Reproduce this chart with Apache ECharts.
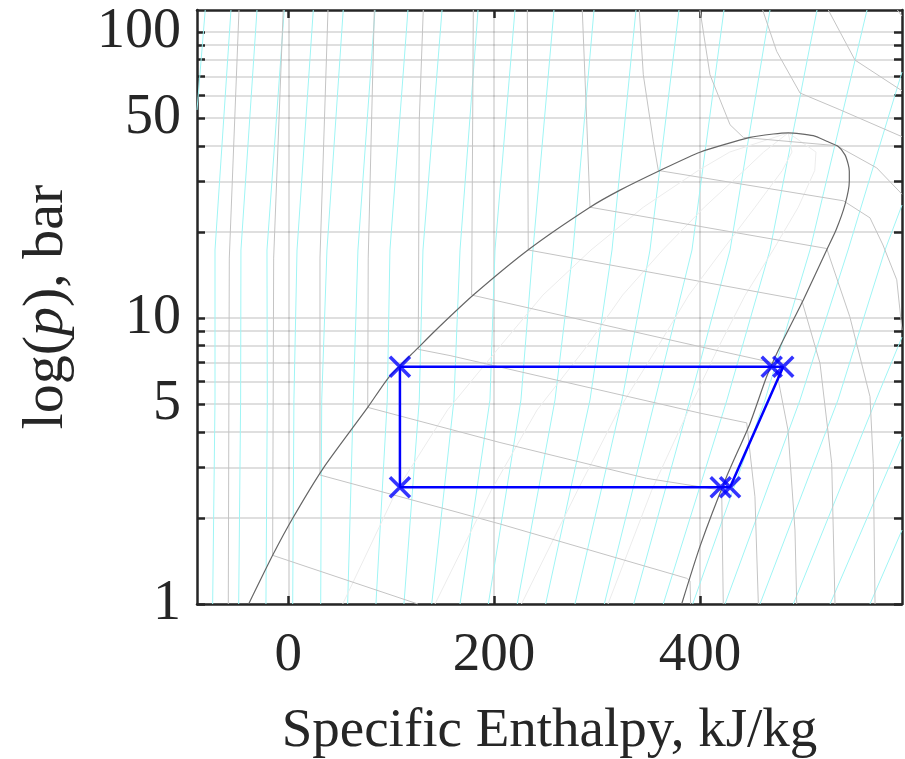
<!DOCTYPE html>
<html>
<head>
<meta charset="utf-8">
<script src="https://cdn.jsdelivr.net/npm/echarts@6/dist/echarts.min.js"></script>
<style>
  html, body { margin: 0; padding: 0; background: #ffffff; }
  #chart { width: 905px; height: 759px; }
</style>
</head>
<body>
<div id="chart"></div>
<script>
// Pressure-enthalpy diagram: h in kJ/kg, p in bar.

// Axis ranges and tick values
const hRange = [-88.7, 596.4];
const pRange = [1, 119.4];
const hTicks = [0, 200, 400];
const pTicks = [1, 2, 3, 4, 5, 6, 7, 8, 9, 10, 20, 30, 40, 50, 60, 70, 80, 90, 100];
const pLabels = [1, 5, 10, 50, 100];

// Saturation dome: bubble line up to the critical point, then dew line
const satLiquid = [[-38.5, 1], [-15.2, 1.48], [4.3, 1.995], [34.4, 3.0], [77.2, 4.87], [98.2, 6.24],
  [124.8, 7.78], [143.5, 9.08], [179.8, 12.03], [234.9, 17.5], [293.2, 24.4], [322.4, 28.0],
  [361.2, 32.8], [400.1, 38.0], [448.7, 42.8], [471.3, 44.0], [485.9, 44.4]];
const satVapor = [[485.9, 44.4], [510.2, 43.4], [523.2, 41.5], [534.5, 39.8], [541.0, 37.2],
  [544.2, 34.4], [545.2, 32.6], [545.2, 30.1], [541.0, 24.9], [532.3, 20.3], [523.2, 17.3],
  [500.5, 11.56], [477.8, 7.94], [464.9, 6.24], [448.7, 4.28], [426.0, 2.79], [400.1, 1.59], [382.3, 1]];

// Lines of constant entropy
const isentropes = [
  [[-88.7, 53.4], [-80.7, 119.4]],
  [[-73.5, 1], [-71.2, 5.17], [-71.2, 17.29], [-55.7, 119.4]],
  [[-48.2, 1], [-46.3, 5.17], [-46.0, 17.29], [-30.4, 119.4]],
  [[-21.7, 1], [-20.4, 5.17], [-20.7, 17.29], [-3.9, 119.4]],
  [[4.3, 1], [5.5, 5.17], [8.5, 17.29], [24.3, 119.4]],
  [[31.5, 1], [32.5, 5.17], [37.6, 17.29], [53.4, 119.4]],
  [[57.7, 1], [63.2, 5.17], [67.7, 17.29], [84.3, 119.4]],
  [[85.2, 1], [96.2, 5.17], [98.8, 17.29], [116.3, 119.4]],
  [[112.4, 1], [127.3, 5.17], [130.9, 17.29], [149.4, 119.4]],
  [[139.4, 1], [161.0, 5.17], [166.9, 17.29], [184.4, 119.4]],
  [[166.9, 1], [196.0, 5.17], [200.9, 17.29], [220.3, 119.4]],
  [[194.4, 1], [226.1, 5.17], [237.8, 17.29], [258.2, 119.4]],
  [[222.5, 1], [259.2, 5.17], [276.7, 17.29], [297.1, 119.4]],
  [[250.1, 1], [293.2, 5.17], [314.6, 17.29], [337.9, 119.4]],
  [[278.6, 1], [324.3, 5.17], [351.5, 17.29], [379.7, 119.4]],
  [[307.1, 1], [356.4, 5.17], [392.3, 17.29], [423.4, 119.4]],
  [[335.7, 1], [390.4, 5.17], [429.3, 17.29], [468.1, 119.4]],
  [[364.4, 1], [426.3, 5.17], [468.1, 17.29], [513.8, 119.4]],
  [[393.0, 1], [463.3, 5.17], [507.0, 17.29], [562.4, 119.4]],
  [[424.4, 1], [497.3, 5.17], [544.0, 17.29], [596.4, 72.5]],
  [[458.4, 1], [534.2, 5.17], [579.9, 17.29], [596.4, 24.84]],
  [[490.8, 1], [571.1, 5.17], [596.4, 8.58]],
  [[526.5, 1], [596.4, 3.84]],
  [[565.3, 1], [596.4, 1.814]]
];

// Lines of constant temperature
const isotherms = [
  [[-47.9, 119.4], [-57.3, 16.2], [-58.3, 1]],
  [[-4.9, 119.4], [-14.2, 16.2], [-15.2, 1.48], [126.0, 1]],
  [[38.6, 119.4], [30.8, 16.2], [30.8, 2.825], [163.0, 2.10], [205.7, 1.905], [387.2, 1.23], [390.4, 1.203], [391.0, 1]],
  [[83.6, 119.4], [77.7, 16.2], [77.2, 4.87], [205.7, 3.67], [348.3, 2.75], [421.2, 2.50], [422.7, 1]],
  [[131.2, 119.4], [127.3, 49.2], [126.3, 7.77], [157.2, 7.39], [400.1, 4.65], [445.5, 4.30], [453.5, 2.37], [456.8, 1]],
  [[179.8, 119.4], [179.2, 49.2], [178.2, 12.03], [400.1, 7.94], [473.0, 6.95], [485.6, 4.06], [492.4, 1.814], [494.1, 1]],
  [[232.3, 119.4], [232.6, 49.2], [233.2, 17.29], [400.1, 13.43], [498.9, 11.56], [516.7, 6.95], [528.1, 3.10], [531.3, 1]],
  [[285.7, 119.4], [290.0, 49.2], [293.2, 24.4], [523.2, 17.5], [545.7, 10.1], [565.3, 5.31], [568.5, 3.10], [570.2, 1]],
  [[341.1, 119.4], [345.0, 70.9], [354.7, 41.5], [359.6, 32.8], [539.4, 25.7], [565.3, 22.4], [577.9, 18.0], [591.3, 13.6], [596.4, 9.08]],
  [[400.1, 119.4], [409.8, 70.9], [429.3, 47.4], [442.2, 42.8], [532.9, 40.05], [571.8, 33.5], [596.4, 27.1]],
  [[461.0, 119.4], [474.6, 85.6], [497.3, 61.2], [536.0, 53.5], [596.4, 43.05]],
  [[524.8, 119.4], [550.7, 79.8], [596.4, 62.3]],
  [[591.9, 119.4], [596.4, 113.7]]
];

// Lines of constant vapour quality inside the dome
const qualityLines = [
  [[52.9, 1], [105.4, 2.5], [154.8, 4.77], [202.8, 7.73], [247.5, 12.03], [294.2, 17.29], [345.0, 24.4], [398.4, 32.8], [429.0, 38.05], [485.9, 44.4]],
  [[142.6, 1], [197.3, 2.5], [241.8, 4.77], [287.4, 7.73], [324.9, 12.03], [363.8, 17.29], [404.3, 24.4], [443.0, 32.8], [462.0, 38.05], [485.9, 44.4]],
  [[226.6, 1], [281.2, 2.5], [321.1, 4.77], [357.1, 7.73], [389.3, 12.03], [422.0, 17.29], [453.6, 24.4], [480.1, 32.8], [489.5, 38.05], [485.9, 44.4]],
  [[310.7, 1], [353.2, 2.5], [389.1, 4.77], [416.7, 7.73], [444.1, 12.03], [471.2, 17.29], [495.6, 24.4], [511.6, 32.8], [512.8, 38.05], [485.9, 44.4]]
];

// Refrigeration cycle state points
const cycleH = [108.5, 108.5, 420.2, 429.3, 481.0, 469.8, 108.5];
const cycleP = [6.76, 2.56, 2.56, 2.56, 6.76, 6.76, 6.76];

const FONT = 'Liberation Serif';
const INK = '#262626';
const GRID = 'rgba(38,38,38,0.15)';

function bgLine(points, color, width, z) {
  return {
    type: 'line', data: points, showSymbol: false, silent: true,
    lineStyle: { color: color, width: width }, z: z, clip: true
  };
}

const series = [];
isentropes.forEach(l => series.push(bgLine(l, '#9ff5f5', 1, 2)));
qualityLines.forEach(l => series.push(bgLine(l, '#ececec', 1, 3)));
isotherms.forEach(l => series.push(bgLine(l, '#c4c4c4', 1, 4)));
series.push(Object.assign(bgLine(satLiquid.concat(satVapor.slice(1)), '#666666', 1.2, 5), { smooth: 0.2 }));

const cyclePts = cycleH.map((h, i) => [h, cycleP[i]]);
series.push({
  type: 'line', data: cyclePts, showSymbol: false, silent: true, z: 10,
  lineStyle: { color: '#0000ff', width: 2.5 }
});
series.push({
  type: 'scatter', data: cyclePts.slice(0, 6), silent: true, z: 11,
  symbol: 'path://M0,0L10,10M10,0L0,10', symbolSize: 20,
  itemStyle: { color: 'none', borderColor: '#0000ff', borderWidth: 3.5 }
});

const axisLineStyle = { color: INK, width: 2.5 };

const option = {
  animation: false,
  backgroundColor: '#ffffff',
  grid: { left: 197, right: 3, top: 10, bottom: 155, containLabel: false, outerBoundsMode: 'none' },
  xAxis: [
    {
      type: 'value', min: hRange[0], max: hRange[1], position: 'bottom',
      axisLine: { show: true, onZero: false, lineStyle: axisLineStyle },
      axisTick: { show: true, inside: true, length: 8, customValues: hTicks, lineStyle: axisLineStyle },
      axisLabel: { customValues: hTicks, fontFamily: FONT, fontSize: 55, color: INK, margin: 24 },
      splitLine: { show: true, lineStyle: { color: GRID, width: 2 } },
      name: 'Specific Enthalpy, kJ/kg', nameLocation: 'middle', nameGap: 100,
      nameTextStyle: { fontFamily: FONT, fontSize: 55, color: INK }
    },
    {
      type: 'value', min: hRange[0], max: hRange[1], position: 'top',
      axisLine: { show: true, onZero: false, lineStyle: axisLineStyle },
      axisTick: { show: true, inside: true, length: 8, customValues: hTicks, lineStyle: axisLineStyle },
      axisLabel: { show: false },
      splitLine: { show: false }
    }
  ],
  yAxis: [
    {
      type: 'log', logBase: 10, min: pRange[0], max: pRange[1], position: 'left',
      axisLine: { show: true, onZero: false, lineStyle: axisLineStyle },
      axisTick: { show: true, inside: true, length: 8, customValues: pTicks, lineStyle: axisLineStyle },
      axisLabel: { customValues: pLabels, fontFamily: FONT, fontSize: 56, color: INK, margin: 16 },
      splitLine: { show: true, lineStyle: { color: GRID, width: 2 } },
      name: '{n|log(}{i|p}{n|), bar}', nameLocation: 'middle', nameGap: 121, nameRotate: 90,
      nameTextStyle: {
        fontFamily: FONT, fontSize: 58, color: INK,
        rich: {
          n: { fontFamily: FONT, fontSize: 58, color: INK },
          i: { fontFamily: FONT, fontSize: 58, color: INK, fontStyle: 'italic' }
        }
      }
    },
    {
      type: 'log', logBase: 10, min: pRange[0], max: pRange[1], position: 'right',
      axisLine: { show: true, onZero: false, lineStyle: axisLineStyle },
      axisTick: { show: true, inside: true, length: 8, customValues: pTicks, lineStyle: axisLineStyle },
      axisLabel: { show: false },
      splitLine: { show: false }
    }
  ],
  series: series
};

const chart = echarts.init(document.getElementById('chart'), null, { renderer: 'canvas' });
chart.setOption(option);
</script>
</body>
</html>
